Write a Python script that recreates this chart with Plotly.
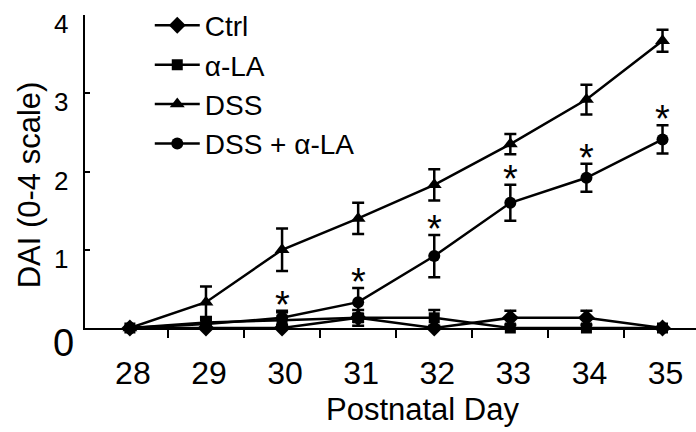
import plotly.graph_objects as go

days = [28, 29, 30, 31, 32, 33, 34, 35]
ctrl = [0, 0, 0, 0.13, 0, 0.13, 0.13, 0]
ctrl_err = [0, 0, 0, 0.05, 0, 0.09, 0.09, 0]
ala = [0, 0.07, 0.1, 0.13, 0.13, 0, 0, 0]
ala_err = [0, 0.07, 0.1, 0.1, 0.1, 0, 0, 0]
dss = [0, 0.33, 1.0, 1.4, 1.83, 2.35, 2.92, 3.67]
dss_err = [0, 0.2, 0.27, 0.2, 0.2, 0.13, 0.19, 0.14]
dssala = [0, 0.05, 0.13, 0.33, 0.92, 1.6, 1.92, 2.41]
dssala_err = [0, 0.05, 0.09, 0.18, 0.27, 0.23, 0.18, 0.18]
sig_days = [30, 31, 32, 33, 34, 35]
y_ticks = [1, 2, 3, 4]

series = [
    ("Ctrl", ctrl, ctrl_err, "diamond", 13),
    ("α-LA", ala, ala_err, "square", 11),
    ("DSS", dss, dss_err, "triangle-up", 13),
    ("DSS + α-LA", dssala, dssala_err, "circle", 12),
]

FONT = "Liberation Sans, Arial, sans-serif"
fig = go.Figure()
for name, vals, errs, sym, sz in series:
    fig.add_trace(go.Scatter(
        x=days, y=vals, name=name, mode="lines+markers",
        line=dict(color="black", width=2.5),
        marker=dict(symbol=sym, size=sz, color="black"),
        error_y=dict(type="data", array=errs, visible=True, color="black",
                     thickness=2.5, width=6),
        cliponaxis=False,
    ))

annotations = []
for d in sig_days:
    i = days.index(d)
    annotations.append(dict(
        x=d, y=dssala[i] + dssala_err[i], xref="x", yref="y", text="*",
        showarrow=False, yanchor="middle", yshift=6,
        font=dict(family=FONT, size=38, color="black")))

for t in y_ticks:
    annotations.append(dict(x=-0.0245, y=t, xref="paper", yref="y", text=str(t),
                            showarrow=False, xanchor="right", yanchor="middle",
                            yshift=-9, font=dict(family=FONT, size=26, color="black")))
annotations.append(dict(x=-0.0344, y=0, xref="paper", yref="y", text="0",
                        showarrow=False, xanchor="center", yanchor="middle",
                        yshift=-15, font=dict(family=FONT, size=38, color="black")))
annotations.append(dict(x=0.553, y=-0.2616, xref="paper", yref="paper",
                        text="Postnatal Day", showarrow=False, xanchor="center",
                        yanchor="middle", font=dict(family=FONT, size=31, color="black")))
annotations.append(dict(x=-0.0917, y=0.459, xref="paper", yref="paper",
                        text="DAI (0-4 scale)", textangle=-90, showarrow=False,
                        xanchor="center", yanchor="middle",
                        font=dict(family=FONT, size=31, color="black")))

fig.update_layout(
    width=696, height=432,
    margin=dict(l=85, r=0, t=14.5, b=103.5),
    paper_bgcolor="white", plot_bgcolor="white",
    font=dict(family=FONT, color="black"),
    showlegend=True,
    legend=dict(x=0.106, y=1.046, xanchor="left", yanchor="top",
                bgcolor="rgba(0,0,0,0)", font=dict(family=FONT, size=28),
                itemwidth=45),
    annotations=annotations,
    xaxis=dict(
        range=[27.41, 35.44], tickvals=days, ticktext=[str(d) for d in days],
        ticks="", showgrid=False, zeroline=False,
        showline=True, linecolor="black", linewidth=2,
        tickfont=dict(family=FONT, size=32, color="black"),
        ticklabelshift=3, ticklabelstandoff=16,
        minor=dict(tickvals=[d + 0.5 for d in days[:-1]], ticks="outside",
                   ticklen=8, tickwidth=2, tickcolor="black", showgrid=False),
    ),
    yaxis=dict(
        range=[0, 4], tickvals=[0, 1, 2, 3, 4], showticklabels=False,
        ticks="inside", ticklen=5, tickwidth=2, tickcolor="black",
        showgrid=False, zeroline=False,
        showline=True, linecolor="black", linewidth=2,
    ),
)

fig.write_html("out.html")
